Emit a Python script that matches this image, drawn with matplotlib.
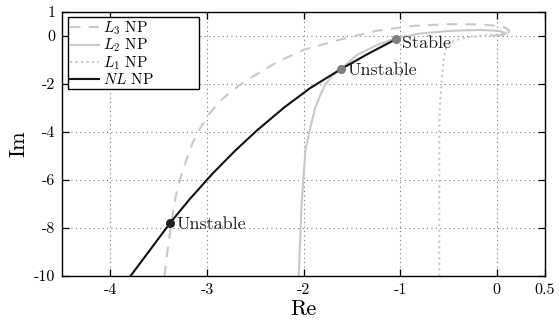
import matplotlib
matplotlib.use("Agg")
import matplotlib.pyplot as plt

plt.rcParams['font.family'] = 'serif'
plt.rcParams['font.serif'] = ['cmr10']
plt.rcParams['mathtext.fontset'] = 'cm'
plt.rcParams['axes.unicode_minus'] = False
plt.rcParams['axes.formatter.use_mathtext'] = True

# curves (Re, Im)
l3_re = [-3.44, -3.41, -3.37, -3.32, -3.25, -3.15, -3.07, -2.99, -2.87, -2.75, -2.61, -2.44,
         -2.27, -2.00, -1.62, -1.24, -0.87, -0.50, -0.17, 0.06, 0.13, 0.11, 0.05]
l3_im = [-10.0, -9.0, -7.8, -6.62, -5.58, -4.47, -3.85, -3.32, -2.74, -2.32, -1.9, -1.49,
         -1.08, -0.58, -0.15, 0.22, 0.42, 0.49, 0.48, 0.40, 0.24, 0.10, 0.04]

l2_re = [-2.05, -2.02, -1.98, -1.94, -1.88, -1.82, -1.77, -1.70, -1.61, -1.45, -1.25, -1.045,
         -0.80, -0.45, -0.17, 0.02, 0.09, 0.07, -0.04]
l2_im = [-10.0, -7.0, -4.75, -4.0, -3.0, -2.4, -2.0, -1.65, -1.375, -0.80, -0.40, -0.10,
         0.10, 0.22, 0.25, 0.21, 0.13, 0.05, 0.01]

l1_re = [-0.595, -0.595, -0.59, -0.57, -0.55, -0.52, -0.48, -0.40, -0.28, -0.15, -0.03, 0.06, 0.11]
l1_im = [-10.0, -4.0, -3.0, -1.9, -1.0, -0.44, -0.27, -0.15, -0.04, 0.02, 0.05, 0.07, 0.08]

nl_re = [-3.79, -3.58, -3.38, -3.18, -2.94, -2.71, -2.48, -2.20, -1.93, -1.61, -1.33, -1.045]
nl_im = [-10.0, -8.87, -7.79, -6.81, -5.73, -4.79, -3.93, -2.98, -2.17, -1.375, -0.74, -0.14]

unstable_nl = (-3.38, -7.79)
unstable_l2 = (-1.61, -1.375)
stable_pt = (-1.045, -0.14)

xticks = [-4, -3, -2, -1, 0, 0.5]
xlabels = ['-4', '-3', '-2', '-1', '0', '0.5']
yticks = [1, 0, -2, -4, -6, -8, -10]
ylabels = ['1', '0', '-2', '-4', '-6', '-8', '-10']

light = '#c8c8c8'

fig = plt.figure(figsize=(5.59, 3.23), dpi=100)
ax = fig.add_axes([0.111, 0.146, 0.864, 0.817])

ax.plot(l3_re, l3_im, '--', color=light, lw=1.5, label=r'$L_3$ NP', dashes=(5, 4))
ax.plot(l2_re, l2_im, '-', color=light, lw=1.5, label=r'$L_2$ NP')
ax.plot(l1_re, l1_im, ':', color=light, lw=1.5, label=r'$L_1$ NP')
ax.plot(nl_re, nl_im, '-', color='#111111', lw=1.5, label=r'$NL$ NP')

ax.plot(*unstable_nl, 'o', color='#222222', ms=5.5, zorder=5)
ax.plot(*unstable_l2, 'o', color='#808080', ms=5.5, zorder=5)
ax.plot(*stable_pt, 'o', color='#808080', ms=5.5, zorder=5)

ax.text(unstable_nl[0] + 0.06, unstable_nl[1] - 0.05, 'Unstable', fontsize=13, va='center', ha='left', color='#222222')
ax.text(unstable_l2[0] + 0.07, unstable_l2[1] - 0.05, 'Unstable', fontsize=13, va='center', ha='left', color='#222222')
ax.text(stable_pt[0] + 0.06, stable_pt[1] - 0.15, 'Stable', fontsize=13, va='center', ha='left', color='#222222')

ax.set_xlim(-4.5, 0.5)
ax.set_ylim(-10, 1)
ax.set_xticks(xticks)
ax.set_xticklabels(xlabels)
ax.set_yticks(yticks)
ax.set_yticklabels(ylabels)
ax.tick_params(direction='in', top=True, right=True, labelsize=11.5, length=5, width=0.9, pad=5)
ax.grid(True, linestyle=(0, (1, 3)), color='#777777', lw=0.8)
for s in ax.spines.values():
    s.set_linewidth(1.0)

ax.set_xlabel('Re', fontsize=16, labelpad=2)
ax.set_ylabel('Im', fontsize=16, labelpad=4)

leg = ax.legend(loc='upper left', bbox_to_anchor=(0.0124, 0.981, 0.271, 0.0), mode='expand',
                fontsize=11, frameon=True, fancybox=False, edgecolor='black',
                framealpha=1, borderpad=0.15, labelspacing=0.0, handlelength=1.85,
                handletextpad=0.3, borderaxespad=0.0)
leg.get_frame().set_linewidth(1.0)

fig.savefig('out.png', dpi=100)
